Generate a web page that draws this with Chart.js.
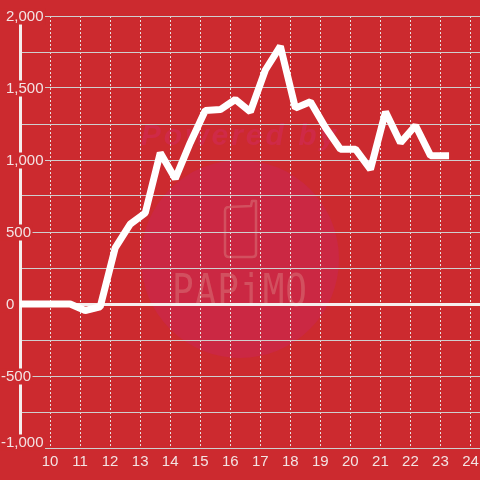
<!DOCTYPE html>
<html>
<head>
<meta charset="utf-8">
<script src="https://cdn.jsdelivr.net/npm/chart.js@4"></script>
<style>
html, body { margin: 0; padding: 0; background: #CC2A2F; }
#wrap { width: 480px; height: 480px; }
</style>
</head>
<body>
<div id="wrap"><canvas id="chart"></canvas></div>
<script>
const hours = [8.67, 9.17, 9.67, 10.17, 10.67, 11.17, 11.67, 12.17, 12.67, 13.17, 13.67, 14.17, 14.67, 15.17, 15.67, 16.17, 16.67, 17.17, 17.67, 18.17, 18.67, 19.17, 19.67, 20.17, 20.67, 21.17, 21.67, 22.17, 22.67, 23.17];
const values = [0, 0, 0, 0, 0, -45, -20, 390, 555, 632, 1050, 870, 1120, 1344, 1350, 1420, 1335, 1625, 1790, 1360, 1405, 1225, 1075, 1075, 935, 1335, 1120, 1240, 1030, 1030];
const xTicks = [10, 11, 12, 13, 14, 15, 16, 17, 18, 19, 20, 21, 22, 23, 24];
const yLabels = [2000, 1500, 1000, 500, 0, -500, -1000];

const BG = '#CC2A2F';
const TEXT = '#F3E3E3';
const LABEL_FONT = '15px "Liberation Sans"';

// faint logo behind the grid
const watermark = {
    id: 'watermark',
    beforeDraw(chart) {
        const c = chart.ctx;
        c.save();
        c.fillStyle = '#CB2843';
        c.beginPath();
        c.arc(240, 259, 99, 0, Math.PI * 2);
        c.fill();

        // phone outline with the little aerial
        c.strokeStyle = '#D2505F';
        c.lineWidth = 2.5;
        c.lineJoin = 'round';
        c.beginPath();
        c.moveTo(229, 207);
        c.lineTo(251, 206);
        c.lineTo(252, 201);
        c.lineTo(256, 201);
        c.lineTo(256, 254);
        c.quadraticCurveTo(256, 257, 252, 257);
        c.lineTo(229, 257);
        c.quadraticCurveTo(225, 257, 225, 253);
        c.lineTo(225, 211);
        c.quadraticCurveTo(225, 207, 229, 207);
        c.stroke();

        c.fillStyle = '#D2505F';
        c.textAlign = 'center';
        c.textBaseline = 'alphabetic';
        c.save();
        c.translate(240, 306);
        c.scale(1, 1.25);
        c.font = '36px "DejaVu Sans Mono"';
        c.letterSpacing = '1px';
        c.fillText('PAPiMO', 0, 0);
        c.restore();

        c.fillStyle = '#CF2A47';
        c.font = 'italic bold 30px "Liberation Sans"';
        c.letterSpacing = '3px';
        c.fillText('Powered by', 240, 145);
        c.restore();
    }
};

// white rule at zero, then the value labels with their backing patches
const axisDecor = {
    id: 'axisDecor',
    beforeDatasetsDraw(chart) {
        const c = chart.ctx;
        const y = chart.scales.y;
        const area = chart.chartArea;
        c.save();
        c.fillStyle = '#F5EEEE';
        c.fillRect(area.left, y.getPixelForValue(0) - 1, area.right - area.left, 3);

        c.font = LABEL_FONT;
        c.textAlign = 'left';
        c.textBaseline = 'middle';
        yLabels.forEach(v => {
            const text = v.toLocaleString('en-US');
            const x = v < 0 ? 1 : 6;
            const py = v === -1000 ? y.getPixelForValue(v) - 5.5 : y.getPixelForValue(v) + 0.5;
            const w = c.measureText(text).width;
            c.fillStyle = BG;
            c.fillRect(0, py - 8, x + w + 1.5, 16);
            c.fillStyle = TEXT;
            c.fillText(text, x, py);
        });
        c.restore();
    }
};

new Chart(document.getElementById('chart').getContext('2d'), {
    type: 'line',
    data: {
        datasets: [{
            data: hours.map((h, i) => ({ x: h, y: values[i] })),
            borderColor: '#FFFFFF',
            borderWidth: 7,
            borderCapStyle: 'square',
            borderJoinStyle: 'bevel',
            pointRadius: 0,
            tension: 0
        }]
    },
    plugins: [watermark, axisDecor],
    options: {
        responsive: true,
        maintainAspectRatio: false,
        animation: false,
        layout: { padding: { top: 16, bottom: 0, left: 0, right: 0 } },
        plugins: { legend: { display: false }, tooltip: { enabled: false } },
        scales: {
            x: {
                type: 'linear',
                min: 9,
                max: 24.317,
                afterBuildTicks: scale => { scale.ticks = xTicks.map(v => ({ value: v })); },
                afterFit: scale => {
                    scale.height = 32;
                    scale.paddingLeft = 0;
                    scale.paddingRight = 0;
                },
                grid: { color: '#E8E0E0', lineWidth: 1, drawTicks: false },
                border: { display: true, color: '#D8D0D0', dash: [2, 2], width: 0 },
                ticks: {
                    color: TEXT,
                    padding: 5,
                    maxRotation: 0,
                    autoSkip: false,
                    font: { family: '"Liberation Sans"', size: 15 }
                }
            },
            y: {
                min: -1000,
                max: 2000,
                afterFit: scale => {
                    scale.width = 20;
                    scale.paddingTop = 0;
                    scale.paddingBottom = 0;
                },
                grid: { color: '#CFCFCF', lineWidth: 1, drawTicks: false },
                border: { display: true, color: '#F5EEEE', width: 3 },
                ticks: { stepSize: 250, display: false, autoSkip: false }
            }
        }
    }
});
</script>
</body>
</html>
